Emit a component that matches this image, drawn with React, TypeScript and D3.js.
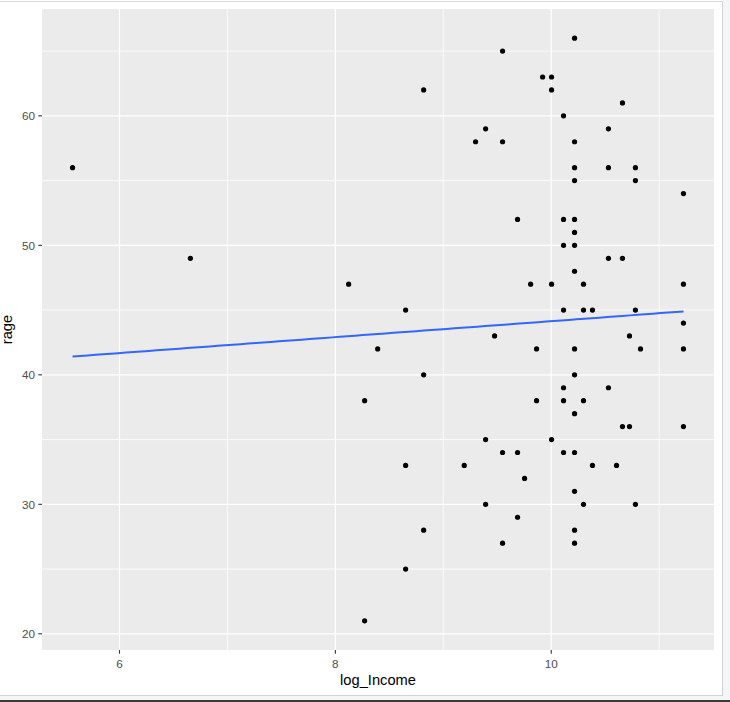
import React from "react";
import * as d3 from "d3";

const logIncome = [
  5.565, 6.657, 8.123, 8.651, 8.392, 8.818, 8.271, 9.475, 9.549, 8.818,
  9.392, 9.299, 9.549, 9.688, 10.216, 9.92, 10.003, 10.003, 10.66, 10.114,
  10.53, 10.216, 10.216, 10.53, 10.78, 10.216, 10.78, 11.225, 10.114, 10.216,
  10.216, 10.114, 10.216, 10.53, 10.66, 10.216, 9.809, 10.003, 10.299, 11.225,
  10.114, 10.299, 10.382, 10.78, 11.225, 10.725, 9.864, 10.216, 10.827, 11.225,
  10.216, 10.114, 10.53, 9.864, 10.114, 10.299, 10.216, 10.66, 10.725, 11.225,
  9.392, 10.003, 9.549, 9.688, 10.114, 10.216, 8.651, 9.194, 10.382, 10.605,
  9.753, 10.216, 9.392, 10.299, 10.78, 9.688, 8.818, 10.216, 9.549, 10.216,
  8.651, 8.271,
];
const rage = [
  56, 49, 47, 45, 42, 40, 38, 43, 65, 62,
  59, 58, 58, 52, 66, 63, 63, 62, 61, 60,
  59, 58, 56, 56, 56, 55, 55, 54, 52, 52,
  51, 50, 50, 49, 49, 48, 47, 47, 47, 47,
  45, 45, 45, 45, 44, 43, 42, 42, 42, 42,
  40, 39, 39, 38, 38, 38, 37, 36, 36, 36,
  35, 35, 34, 34, 34, 34, 33, 33, 33, 33,
  32, 31, 30, 30, 30, 29, 28, 28, 27, 27,
  25, 21,
];
const xMajor = [6, 8, 10];
const xMinor = [7, 9, 11];
const yMajor = [20, 30, 40, 50, 60];
const yMinor = [25, 35, 45, 55, 65];
const xTitle = "log_Income";
const yTitle = "rage";

const W = 730;
const H = 702;
const P = { l: 42, r: 714, t: 9, b: 650 };
const FONT = "'Liberation Sans', Arial, sans-serif";

function expand(ext: [number, number]): [number, number] {
  const s = (ext[1] - ext[0]) * 0.05;
  return [ext[0] - s, ext[1] + s];
}

export default function App() {
  const x = d3.scaleLinear().domain(expand(d3.extent(logIncome) as [number, number])).range([P.l, P.r]);
  const y = d3.scaleLinear().domain(expand(d3.extent(rage) as [number, number])).range([P.b, P.t]);

  // OLS fit (geom_smooth method = lm)
  const mx = d3.mean(logIncome)!;
  const my = d3.mean(rage)!;
  let sxy = 0, sxx = 0;
  logIncome.forEach((v, i) => { sxy += (v - mx) * (rage[i] - my); sxx += (v - mx) * (v - mx); });
  const slope = sxy / sxx;
  const icpt = my - slope * mx;
  const [x0, x1] = d3.extent(logIncome) as [number, number];
  const fit = d3.range(0, 81).map((k) => { const xv = x0 + ((x1 - x0) * k) / 80; return [xv, icpt + slope * xv] as [number, number]; });
  const line = d3.line<[number, number]>().x((d) => x(d[0])).y((d) => y(d[1]));

  return (
    <svg width={W} height={H} style={{ position: "absolute", left: 0, top: 0 }} xmlns="http://www.w3.org/2000/svg">
      <rect x={0} y={0} width={W} height={H} fill="#ffffff" />
      <rect x={723} y={0} width={7} height={H} fill="#f4f5f7" />
      <rect x={0} y={696} width={W} height={4} fill="#f4f5f7" />
      <rect x={0} y={700} width={W} height={2} fill="#3a3a3a" />
      <line x1={0} x2={723} y1={1.5} y2={1.5} stroke="#d8dbde" strokeWidth={1} />
      <line x1={722.5} x2={722.5} y1={1} y2={695.5} stroke="#d2d2d2" strokeWidth={1} />
      <line x1={0} x2={723} y1={695.5} y2={695.5} stroke="#d2d2d2" strokeWidth={1} />

      <rect x={P.l} y={P.t} width={P.r - P.l} height={P.b - P.t} fill="#EBEBEB" />
      {yMinor.map((v) => (
        <line key={"ym" + v} x1={P.l} x2={P.r} y1={y(v)} y2={y(v)} stroke="#ffffff" strokeWidth={0.8} />
      ))}
      {xMinor.map((v) => (
        <line key={"xm" + v} x1={x(v)} x2={x(v)} y1={P.t} y2={P.b} stroke="#ffffff" strokeWidth={0.8} />
      ))}
      {yMajor.map((v) => (
        <line key={"yM" + v} x1={P.l} x2={P.r} y1={y(v)} y2={y(v)} stroke="#ffffff" strokeWidth={1.2} />
      ))}
      {xMajor.map((v) => (
        <line key={"xM" + v} x1={x(v)} x2={x(v)} y1={P.t} y2={P.b} stroke="#ffffff" strokeWidth={1.2} />
      ))}

      {logIncome.map((v, i) => (
        <circle key={"p" + i} cx={x(v)} cy={y(rage[i])} r={2.6} fill="#000000" />
      ))}
      <path d={line(fit) || ""} fill="none" stroke="#3366FF" strokeWidth={2} />

      {yMajor.map((v) => (
        <g key={"yt" + v}>
          <line x1={P.l - 3.7} x2={P.l} y1={y(v)} y2={y(v)} stroke="#333333" strokeWidth={1.1} />
          <text x={P.l - 7} y={y(v)} dy="0.36em" textAnchor="end" fontFamily={FONT} fontSize={11.7} fill="#4D4D4D">{v}</text>
        </g>
      ))}
      {xMajor.map((v) => (
        <g key={"xt" + v}>
          <line x1={x(v)} x2={x(v)} y1={P.b} y2={P.b + 3.7} stroke="#333333" strokeWidth={1.1} />
          <text x={x(v)} y={P.b + 17.5} textAnchor="middle" fontFamily={FONT} fontSize={11.7} fill="#4D4D4D">{v}</text>
        </g>
      ))}
      <text x={(P.l + P.r) / 2} y={685} textAnchor="middle" fontFamily={FONT} fontSize={14.7} fill="#000000">{xTitle}</text>
      <text transform={`translate(12, ${(P.t + P.b) / 2}) rotate(-90)`} textAnchor="middle" fontFamily={FONT} fontSize={14.7} fill="#000000">{yTitle}</text>
    </svg>
  );
}
